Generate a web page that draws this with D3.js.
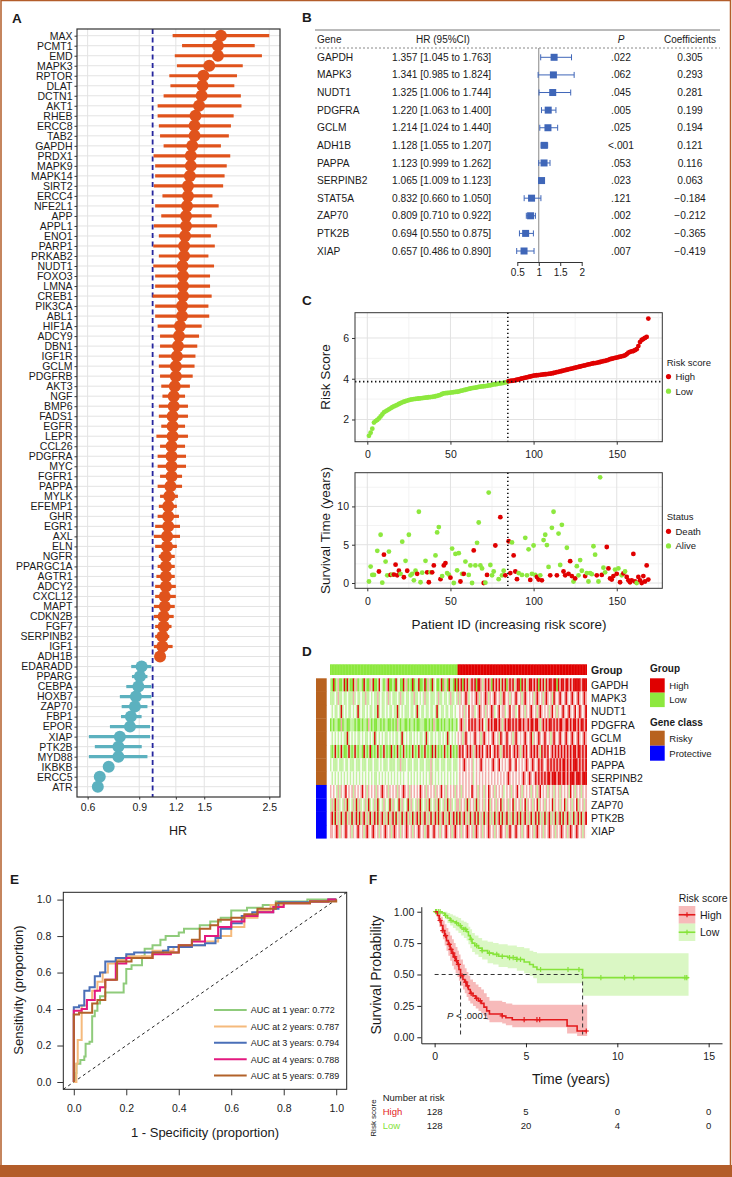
<!DOCTYPE html>
<html>
<head>
<meta charset="utf-8">
<script src="https://cdnjs.cloudflare.com/ajax/libs/d3/7.8.5/d3.min.js"></script>
<style>
  body { margin: 0; background: #fff; }
  svg { display: block; font-family: "Liberation Sans", Arial, Helvetica, sans-serif; }
</style>
</head>
<body>
<div id="fig"></div>
<script>
// ---------------- data ----------------

// A: univariate Cox HRs
const genesA = ['MAX','PCMT1','EMD','MAPK3','RPTOR','DLAT','DCTN1','AKT1','RHEB','ERCC8','TAB2','GAPDH','PRDX1','MAPK9','MAPK14','SIRT2','ERCC4','NFE2L1','APP','APPL1','ENO1','PARP1','PRKAB2','NUDT1','FOXO3','LMNA','CREB1','PIK3CA','ABL1','HIF1A','ADCY9','DBN1','IGF1R','GCLM','PDGFRB','AKT3','NGF','BMP6','FADS1','EGFR','LEPR','CCL26','PDGFRA','MYC','FGFR1','PAPPA','MYLK','EFEMP1','GHR','EGR1','AXL','ELN','NGFR','PPARGC1A','AGTR1','ADCY2','CXCL12','MAPT','CDKN2B','FGF7','SERPINB2','IGF1','ADH1B','EDARADD','PPARG','CEBPA','HOXB7','ZAP70','FBP1','EPOR','XIAP','PTK2B','MYD88','IKBKB','ERCC5','ATR']
const hrA = [1.71,1.67,1.67,1.56,1.49,1.48,1.47,1.44,1.40,1.39,1.39,1.365,1.35,1.35,1.34,1.32,1.32,1.31,1.30,1.30,1.29,1.28,1.28,1.265,1.27,1.27,1.27,1.26,1.26,1.24,1.23,1.22,1.21,1.20,1.20,1.19,1.18,1.18,1.17,1.17,1.17,1.16,1.16,1.16,1.16,1.15,1.14,1.13,1.13,1.13,1.12,1.12,1.11,1.11,1.11,1.11,1.10,1.10,1.09,1.09,1.08,1.08,1.06,0.917,0.905,0.894,0.877,0.87,0.843,0.837,0.773,0.764,0.764,0.708,0.66,0.65]
const loA = [1.17,1.26,1.19,1.21,1.14,1.15,1.09,1.04,1.04,1.05,1.06,1.09,1.007,1.02,1.02,1.01,1.08,1.02,1.07,1.01,1.05,1.005,1.05,1.005,1.02,1.02,1.00,1.02,1.02,1.04,1.06,1.06,1.05,1.05,1.06,1.07,1.08,1.05,1.05,1.07,1.03,1.06,1.04,1.04,1.06,1.04,1.06,1.05,1.04,1.02,1.01,1.02,1.05,1.04,1.03,1.02,1.02,1.01,1.01,1.02,1.02,1.01,1.04,0.845,0.85,0.813,0.773,0.784,0.78,0.715,0.606,0.635,0.606,0.69,0.65,0.64]
const hiA = [2.50,2.23,2.36,2.03,1.94,1.90,2.00,2.01,1.89,1.85,1.82,1.71,1.84,1.79,1.76,1.74,1.60,1.68,1.59,1.66,1.58,1.63,1.55,1.62,1.57,1.57,1.59,1.55,1.56,1.47,1.44,1.42,1.40,1.39,1.37,1.34,1.29,1.32,1.32,1.29,1.32,1.29,1.30,1.30,1.26,1.26,1.22,1.21,1.23,1.24,1.24,1.21,1.19,1.19,1.19,1.20,1.20,1.19,1.18,1.16,1.14,1.17,1.09,0.99,0.96,0.99,0.99,0.96,0.917,0.98,0.98,0.918,0.96,0.73,0.68,0.67]
const ticksA = [0.6, 0.9, 1.2, 1.5, 2.5]

// B: multivariate model
const genesB = ['GAPDH','MAPK3','NUDT1','PDGFRA','GCLM','ADH1B','PAPPA','SERPINB2','STAT5A','ZAP70','PTK2B','XIAP']
const hrB = [1.357,1.341,1.325,1.220,1.214,1.128,1.123,1.065,0.832,0.809,0.694,0.657]
const loB = [1.045,0.985,1.006,1.063,1.024,1.055,0.999,1.009,0.660,0.710,0.550,0.486]
const hiB = [1.763,1.824,1.744,1.400,1.440,1.207,1.262,1.123,1.050,0.922,0.875,0.890]
const pB = ['.022','.062','.045','.005','.025','<.001','.053','.023','.121','.002','.002','.007']
const coefB = ['0.305','0.293','0.281','0.199','0.194','0.121','0.116','0.063','\u22120.184','\u22120.212','\u22120.365','\u22120.419']
const ticksB = [0.5, 1, 1.5, 2]

// C: risk score per patient (sorted), cutoff
const riskScore = [
  1.20,1.35,1.55,1.85,1.92,1.98,2.05,2.15,2.25,2.35,
  2.40,2.45,2.50,2.55,2.60,2.64,2.68,2.72,2.76,2.80,
  2.84,2.87,2.90,2.93,2.95,2.97,2.99,3.00,3.01,3.02,
  3.03,3.04,3.05,3.06,3.07,3.08,3.09,3.10,3.11,3.12,
  3.14,3.16,3.18,3.21,3.25,3.28,3.29,3.30,3.31,3.32,
  3.33,3.34,3.35,3.36,3.37,3.40,3.42,3.44,3.46,3.48,
  3.50,3.52,3.54,3.55,3.56,3.58,3.60,3.61,3.62,3.63,
  3.64,3.65,3.67,3.68,3.70,3.72,3.73,3.74,3.76,3.77,
  3.78,3.80,3.82,3.84,3.88,3.89,3.90,3.91,3.93,3.95,
  3.97,3.99,4.01,4.03,4.05,4.07,4.09,4.11,4.13,4.15,
  4.16,4.17,4.18,4.19,4.20,4.21,4.22,4.23,4.24,4.25,
  4.26,4.28,4.30,4.32,4.34,4.36,4.38,4.40,4.42,4.44,
  4.46,4.48,4.50,4.52,4.54,4.56,4.58,4.60,4.62,4.64,
  4.66,4.68,4.70,4.72,4.74,4.76,4.77,4.78,4.80,4.82,
  4.84,4.86,4.88,4.90,4.93,4.96,4.98,5.00,5.02,5.04,
  5.06,5.08,5.10,5.12,5.15,5.20,5.28,5.32,5.34,5.36,
  5.40,5.45,5.60,5.80,5.90,5.95,6.00,6.05,6.95]
const nLow = 84
const riskCut = 3.86
const survIdx = [1,2,3,4,6,7,8,9,10,11,12,13,14,15,16,17,18,19,20,21,22,23,24,25,26,27,28,29,30,31,32,33,35,36,37,38,39,40,41,42,43,44,45,46,47,48,49,50,51,52,53,54,55,56,57,58,59,61,62,63,64,65,66,67,68,69,70,71,72,73,74,75,76,77,79,80,81,82,83,85,86,87,88,89,90,91,93,95,96,97,98,99,100,101,102,103,104,105,106,107,108,109,110,111,112,114,115,116,117,118,119,120,121,122,123,124,125,126,127,128,129,131,132,133,134,135,136,137,138,139,140,141,142,143,144,145,146,147,148,149,150,151,152,153,154,155,156,157,158,159,160,161,162,163,164,165,166,167,168,169]
const survTime = [0.2,2.15,1.05,1.05,4.2,1.5,6.3,0.05,3.7,2.8,1.0,4.1,1.05,1.1,1.1,2.4,1.0,1.6,1.2,5.4,0.75,2.9,1.6,6.3,1.0,1.2,0.35,1.6,1.2,9.3,0.1,1.35,2.9,1.4,0.1,1.4,1.4,2.3,3.6,6.6,7.3,0.5,0.9,2.3,2.6,1.3,1.1,0.7,4.5,0.0,3.8,1.65,3.9,0.2,1.2,1.2,2.8,1.05,2.3,0.0,4.25,2.3,5.25,7.9,2.3,1.9,0.0,0.05,1.05,11.8,2.35,1.0,1.5,4.9,0.5,8.6,1.0,1.6,1.0,5.45,1.3,5.3,3.6,1.5,0.5,1.3,1.05,5.9,1.0,4.4,0.4,1.2,4.9,1.05,0.8,0.45,1.0,0.35,5.6,6.3,4.95,2.1,1.0,7.2,9.3,1.0,6.45,2.35,7.6,1.5,1.0,4.6,1.2,2.85,0.9,0.2,0.6,2.2,1.0,3.0,1.6,0.9,1.3,0.2,1.3,1.15,4.8,3.7,1.0,0.2,13.8,1.05,2.0,1.4,4.7,1.9,0.6,0.45,0.9,1.75,1.2,1.9,0.1,1.0,1.25,1.5,0.8,0.35,0.1,0.35,3.8,0.2,0.0,0.8,0.35,0.0,0.9,0.2,2.3,0.45]
const survDead = [0,0,0,0,0,1,0,0,1,0,0,0,1,0,1,1,1,1,0,0,1,0,1,0,0,0,0,0,1,0,0,0,0,1,1,0,1,1,0,0,0,1,0,1,1,0,0,1,0,0,0,0,0,1,0,1,0,0,0,0,1,0,0,0,0,0,1,0,1,0,0,0,0,1,0,1,0,0,1,1,1,0,1,1,1,0,0,0,0,0,1,0,0,0,1,1,0,1,0,0,0,0,1,0,0,1,0,0,0,1,1,0,1,1,1,0,1,0,0,0,0,1,0,0,0,0,0,0,1,0,0,1,0,0,1,1,1,1,1,0,1,0,1,0,1,0,1,1,1,1,1,1,0,1,1,1,1,1,1,1]

// D: expression heatmap (0 = strong green, 2 = white, 4 = strong red), low group then high group
const genesD = ['GAPDH','MAPK3','NUDT1','PDGFRA','GCLM','ADH1B','PAPPA','SERPINB2','STAT5A','ZAP70','PTK2B','XIAP']
const classD = ['Risky','Risky','Risky','Risky','Risky','Risky','Risky','Risky','Protective','Protective','Protective','Protective']
const exprD = [
  '1040130014 0410041301 1041003140 0142101340 0104120041 3010401140 0140310412 0014031041 1040' + '4340434134 3404431343 4304343414 3403434134 4043413443 4340434143 4434404344 3443434444 43444',
  '1112131121 1211131211 2113112121 1312112131 2111213112 1121131121 2131121112 1311211213 1121' + '3132343123 2343132343 1323432313 4323132343 2313432323 1343231343 2314323432 3432343234 32343',
  '2121121412 1211212141 2112121121 1412112121 1211412121 1121121412 1121121121 4121121121 1212' + '2323132423 3123432313 2343123423 3123423312 4323132343 2313432323 1342313234 3234323423 43234',
  '0101100301 1001110100 1011031010 0110101100 1010310110 0101101001 1100101031 0010101101 0110' + '2343132434 3433434213 4343443431 3434434343 4434334344 3443134343 4434343443 3443434434 34434',
  '2121212121 1412121211 2121121214 1212121121 2121121412 1211212121 1214121121 2112121412 1212' + '3231343232 3432313432 3234323143 2343231343 2323432341 3234323432 3134323432 3432343234 32343',
  '1014101410 0141014101 1041014010 1410141010 4101410141 0101410141 0141010414 1010141014 1010' + '3434234343 1343434234 3423434313 4343423434 3134342343 4343143434 2343434343 4343434434 43434',
  '1211121112 1121112111 2111211121 1121211121 1112113111 2111211121 1121113121 1121112111 2111' + '2323432323 1232343232 3234323423 2323432342 3232343234 3234343234 3434343434 4343434443 43434',
  '2121212121 2121212121 2121212121 1212121212 1212121212 2121212121 2121213121 2121212121 2121' + '2323232323 1232323232 3232323232 3234323232 3234323432 3434343434 4344434434 4343444344 43444',
  '3232131323 4232313232 3423132323 1323432313 2323132343 2313232324 3231323231 3234231323 2313' + '2313232324 3231323132 4323132323 1232313234 2313232313 2313423231 3231323132 3231423132 31323',
  '1314131213 1412131413 1213141213 1412131214 1312141312 1413121314 1213141213 1412131413 1213' + '3132314132 3141323132 4132313241 3231324132 3132413231 3241323132 3241323132 4132313241 32313',
  '3414131413 4131413414 1341314134 1413413141 3414131413 4131413414 1341314134 1413413141 3414' + '1413413141 3414131413 4131413414 1341314134 1413413141 3414131413 4131413414 1341314134 14134',
  '3323431323 4323132343 2313432343 2313234323 1343231323 4323132343 2313432343 2313234323 1343' + '2313234323 1343231323 4323132343 2313432343 2313234323 1343231323 4323132343 2313432343 23132'
]

// E: time-dependent ROC curves [1 - specificity, sensitivity]
const rocLabels = ['AUC at 1 year: 0.772','AUC at 2 years: 0.787','AUC at 3 years: 0.794','AUC at 4 years: 0.788','AUC at 5 years: 0.789']
const rocColors = ['#8fcb7b','#f5ba7c','#4a6fb8','#e3197f','#b2622a']
const roc1 = [[0,0],[0.005,0.05],[0.01,0.1],[0.025,0.12],[0.04,0.14],[0.045,0.21],[0.06,0.22],[0.07,0.36],[0.08,0.39],[0.09,0.43],[0.1,0.47],[0.12,0.49],[0.19,0.54],[0.2,0.62],[0.22,0.64],[0.26,0.69],[0.27,0.73],[0.3,0.75],[0.33,0.78],[0.35,0.80],[0.4,0.82],[0.42,0.84],[0.46,0.84],[0.48,0.86],[0.52,0.88],[0.56,0.90],[0.6,0.94],[0.66,0.955],[0.72,0.97],[0.77,0.99],[0.89,1.0],[1,1]]
const roc2 = [[0,0],[0.01,0.1],[0.015,0.23],[0.025,0.23],[0.03,0.42],[0.05,0.45],[0.07,0.5],[0.09,0.55],[0.11,0.6],[0.13,0.65],[0.16,0.67],[0.2,0.69],[0.3,0.72],[0.38,0.74],[0.45,0.75],[0.5,0.77],[0.55,0.8],[0.6,0.85],[0.65,0.9],[0.7,0.94],[0.75,0.97],[0.8,0.98],[0.9,0.99],[0.97,1.0],[1,1]]
const roc3 = [[0,0],[0,0.41],[0.02,0.42],[0.04,0.5],[0.06,0.52],[0.08,0.58],[0.1,0.6],[0.12,0.66],[0.16,0.68],[0.2,0.70],[0.23,0.71],[0.34,0.72],[0.36,0.74],[0.45,0.75],[0.5,0.76],[0.54,0.79],[0.56,0.84],[0.6,0.87],[0.64,0.91],[0.68,0.93],[0.76,0.95],[0.78,0.985],[0.9,0.99],[0.97,1.0],[1,1]]
const roc4 = [[0,0],[0,0.39],[0.03,0.40],[0.05,0.45],[0.08,0.50],[0.1,0.52],[0.12,0.56],[0.16,0.65],[0.2,0.68],[0.3,0.70],[0.37,0.71],[0.4,0.75],[0.45,0.77],[0.5,0.80],[0.55,0.85],[0.6,0.88],[0.65,0.91],[0.7,0.93],[0.76,0.96],[0.8,0.98],[0.9,0.99],[0.97,1.0],[1,1]]
const roc5 = [[0,0],[0,0.37],[0.02,0.38],[0.05,0.38],[0.07,0.43],[0.09,0.45],[0.12,0.50],[0.12,0.56],[0.165,0.66],[0.22,0.68],[0.3,0.71],[0.4,0.75],[0.45,0.78],[0.48,0.84],[0.52,0.86],[0.55,0.89],[0.6,0.90],[0.65,0.92],[0.7,0.95],[0.77,0.98],[0.9,0.99],[1,1]]
const rocCurves = [roc1, roc2, roc3, roc4, roc5]
const ticksE = [0, 0.2, 0.4, 0.6, 0.8, 1.0]

// F: Kaplan-Meier (step points), CIs, censor times, risk table
const kmHighT  = [0,0.15,0.25,0.35,0.45,0.55,0.65,0.75,0.85,0.95,1.05,1.15,1.25,1.33,1.42,1.55,1.65,1.75,1.85,1.95,2.1,2.25,2.4,2.55,2.7,2.85,3.0,3.7,3.9,4.25,7.25,7.8,8.35]
const kmHighS  = [1,0.97,0.93,0.89,0.85,0.81,0.77,0.74,0.70,0.67,0.64,0.61,0.58,0.54,0.49,0.46,0.44,0.41,0.38,0.35,0.33,0.31,0.29,0.27,0.24,0.21,0.185,0.17,0.155,0.14,0.09,0.05,0.05]
const kmHighU  = [1,1,0.99,0.96,0.93,0.90,0.87,0.84,0.81,0.78,0.75,0.72,0.69,0.66,0.62,0.58,0.55,0.52,0.49,0.46,0.44,0.42,0.40,0.38,0.35,0.32,0.29,0.28,0.27,0.26,0.26,0.26,0.26]
const kmHighL  = [1,0.94,0.88,0.83,0.78,0.73,0.69,0.65,0.61,0.57,0.54,0.51,0.48,0.45,0.41,0.38,0.35,0.32,0.29,0.27,0.25,0.23,0.21,0.19,0.17,0.14,0.12,0.11,0.095,0.08,0.03,0.01,0.01]
const kmLowT   = [0,0.4,0.55,0.7,0.85,1.0,1.15,1.3,1.45,1.6,1.75,1.85,1.95,2.05,2.2,2.4,2.6,2.9,3.2,3.5,4.0,4.5,4.9,5.2,5.4,5.6,8.1,13.9]
const kmLowS   = [1,0.99,0.97,0.95,0.93,0.92,0.91,0.89,0.87,0.86,0.84,0.81,0.78,0.75,0.73,0.71,0.69,0.67,0.66,0.645,0.635,0.62,0.60,0.58,0.56,0.54,0.475,0.475]
const kmLowU   = [1,1,1,0.99,0.98,0.97,0.96,0.95,0.93,0.92,0.91,0.88,0.86,0.83,0.81,0.79,0.77,0.76,0.75,0.74,0.73,0.72,0.71,0.69,0.68,0.67,0.67,0.67]
const kmLowL   = [1,0.97,0.94,0.91,0.89,0.87,0.85,0.83,0.81,0.79,0.77,0.74,0.71,0.68,0.66,0.64,0.62,0.59,0.58,0.56,0.55,0.53,0.51,0.49,0.47,0.43,0.33,0.33]
const censorHigh = [0.3,0.45,0.6,0.8,0.9,1.0,1.1,1.2,1.3,1.5,1.7,1.8,2.0,2.3,2.5,3.7,4.9,5.6,5.75,8.3]
const censorLow  = [0.05,0.1,0.2,0.3,0.6,0.9,1.2,1.4,1.6,1.7,2.0,2.3,2.6,3.0,3.4,3.7,4.1,4.3,4.5,4.7,5.8,7.3,7.9,9.1,10.4,10.9,13.7,13.8]
const medHigh = 1.42, medLow = 8.1
const riskTimes = [0, 5, 10, 15]
const riskHigh = [128, 5, 0, 0]
const riskLow = [128, 20, 4, 0]

// ---------------- drawing ----------------
const FONT = '"Liberation Sans", Arial, Helvetica, sans-serif'
const ink = '#1a1a1a'
const orange = '#e0531c', teal = '#5cb1bf'
const red = '#e00000', green = '#8de83e'
const frameCol = '#b35d2a'

const svg = d3.select('#fig').append('svg')
  .attr('width', 732).attr('height', 1177)

const styleAxis = (g, size) => {
  g.select('.domain').remove()
  g.selectAll('text').attr('font-size', size).attr('font-family', FONT).attr('fill', ink)
  g.selectAll('line').attr('stroke', '#333')
}
const label = (x, y, s, size, opts = {}) => svg.append('text')
  .attr('x', x).attr('y', y).text(s)
  .attr('font-size', size).attr('fill', opts.fill || ink)
  .attr('font-weight', opts.bold ? 'bold' : null)
  .attr('text-anchor', opts.anchor || 'start')
  .attr('font-style', opts.italic ? 'italic' : null)

// frame
svg.append('rect').attr('x', 1).attr('y', 0.5).attr('width', 729.5).attr('height', 1170)
   .attr('fill', 'none').attr('stroke', frameCol).attr('stroke-width', 1.5)
svg.append('rect').attr('x', 0).attr('y', 1165).attr('width', 732).attr('height', 12).attr('fill', frameCol)

// panel letters
label(12, 22.5, 'A', 13.5, { bold: true })
label(302, 22, 'B', 13.5, { bold: true })
label(302, 305, 'C', 13.5, { bold: true })
label(302, 656, 'D', 13.5, { bold: true })
label(10, 884, 'E', 13.5, { bold: true })
label(369, 884, 'F', 13.5, { bold: true })

// ===== A =====
const gA = svg.append('g')
const ax = d3.scaleLog().domain([0.552, 2.72]).range([77, 280])
const ay = d3.scalePoint().domain(genesA).range([35.7, 786.7])

gA.selectAll('line.vg').data(ticksA).join('line').attr('class', 'vg')
  .attr('x1', d => ax(d)).attr('x2', d => ax(d)).attr('y1', 29).attr('y2', 797)
  .attr('stroke', '#e3e3e3')
gA.selectAll('line.hg').data(genesA).join('line').attr('class', 'hg')
  .attr('x1', 77).attr('x2', 280).attr('y1', d => ay(d)).attr('y2', d => ay(d))
  .attr('stroke', '#e3e3e3')
gA.append('line').attr('x1', ax(1)).attr('x2', ax(1)).attr('y1', 29).attr('y2', 797)
  .attr('stroke', '#26269e').attr('stroke-width', 1.8).attr('stroke-dasharray', '5,3.5')

gA.selectAll('line.ci').data(genesA).join('line').attr('class', 'ci')
  .attr('x1', (d, i) => ax(loA[i])).attr('x2', (d, i) => ax(hiA[i]))
  .attr('y1', d => ay(d)).attr('y2', d => ay(d))
  .attr('stroke', (d, i) => hrA[i] < 1 ? teal : orange).attr('stroke-width', 3.2)
gA.selectAll('circle').data(genesA).join('circle')
  .attr('cx', (d, i) => ax(hrA[i])).attr('cy', d => ay(d)).attr('r', 6)
  .attr('fill', (d, i) => hrA[i] < 1 ? teal : orange)
gA.append('rect').attr('x', 77).attr('y', 29).attr('width', 203).attr('height', 768)
  .attr('fill', 'none').attr('stroke', '#333').attr('stroke-width', 1.2)

gA.append('g').attr('transform', 'translate(77,0)')
  .call(d3.axisLeft(ay).tickSize(2.5).tickPadding(2))
  .call(g => styleAxis(g, 10.5))
gA.append('g').attr('transform', 'translate(0,797)')
  .call(d3.axisBottom(ax).tickValues(ticksA).tickFormat(d3.format('.1f')).tickSize(2.5).tickPadding(4))
  .call(g => styleAxis(g, 10.5))
label(178, 835, 'HR', 12.5, { anchor: 'middle' })

// ===== B =====
const gB = svg.append('g')
const by = d3.scalePoint().domain(genesB).range([57.3, 251])
const bx = d3.scaleLinear().domain([0.5, 2]).range([517.3, 581.7])
const blue = '#3f66b8'

gB.append('line').attr('x1', 315).attr('x2', 720).attr('y1', 30).attr('y2', 30).attr('stroke', '#777')
gB.append('line').attr('x1', 315).attr('x2', 720).attr('y1', 48).attr('y2', 48)
  .attr('stroke', '#888').attr('stroke-dasharray', '2,2')
label(317, 43, 'Gene', 10)
label(443, 43, 'HR (95%CI)', 10, { anchor: 'middle' })
label(621, 43, 'P', 10, { anchor: 'middle', italic: true })
label(690, 43, 'Coefficients', 10, { anchor: 'middle' })

gB.append('line').attr('x1', bx(1)).attr('x2', bx(1)).attr('y1', 48).attr('y2', 262).attr('stroke', '#888')
const rowsB = gB.selectAll('g.row').data(genesB).join('g').attr('class', 'row')
  .attr('transform', d => `translate(0,${by(d)})`)
rowsB.append('text').attr('x', 317).attr('dy', '0.35em').text(d => d)
rowsB.append('text').attr('x', 392).attr('dy', '0.35em')
  .text((d, i) => `${hrB[i].toFixed(3)} [${loB[i].toFixed(3)} to ${hiB[i].toFixed(3)}]`)
rowsB.append('text').attr('x', 621).attr('dy', '0.35em').attr('text-anchor', 'middle').text((d, i) => pB[i])
rowsB.append('text').attr('x', 690).attr('dy', '0.35em').attr('text-anchor', 'middle').text((d, i) => coefB[i])
rowsB.selectAll('text').attr('font-size', 10.2).attr('fill', ink)
rowsB.append('line').attr('x1', (d, i) => bx(loB[i])).attr('x2', (d, i) => bx(hiB[i]))
  .attr('stroke', blue)
rowsB.append('line').attr('x1', (d, i) => bx(loB[i])).attr('x2', (d, i) => bx(loB[i]))
  .attr('y1', -3).attr('y2', 3).attr('stroke', blue)
rowsB.append('line').attr('x1', (d, i) => bx(hiB[i])).attr('x2', (d, i) => bx(hiB[i]))
  .attr('y1', -3).attr('y2', 3).attr('stroke', blue)
rowsB.append('rect').attr('x', (d, i) => bx(hrB[i]) - 3.5).attr('y', -3.5)
  .attr('width', 7).attr('height', 7).attr('fill', blue)
gB.append('g').attr('transform', 'translate(0,262)')
  .call(d3.axisBottom(bx).tickValues(ticksB).tickFormat(d3.format('~g')).tickSize(4).tickSizeOuter(0))
  .call(g => {
    g.selectAll('text').attr('font-size', 10).attr('fill', ink)
    g.select('.domain').attr('stroke', '#333')
    g.selectAll('line').attr('stroke', '#333')
  })

// ===== C =====
const gC = svg.append('g')
const n = riskScore.length
const cx = d3.scaleLinear().domain([1 - 0.05 * (n - 1), n + 0.05 * (n - 1)]).range([355, 662.3])
const cy1 = d3.scaleLinear().domain([0.91, 7.24]).range([441.7, 312.7])
const cy2 = d3.scaleLinear().domain([-0.69, 14.4]).range([588.3, 472.7])
const xMajC = [0, 50, 100, 150], xMinC = [25, 75, 125, 175]

const gridC = (yScale, yMaj, yMin, top, bottom) => {
  const g = gC.append('g')
  g.selectAll('line.mx').data(xMinC).join('line').attr('class', 'mx')
    .attr('x1', d => cx(d)).attr('x2', d => cx(d)).attr('y1', top).attr('y2', bottom).attr('stroke', '#f3f3f3')
  g.selectAll('line.my').data(yMin).join('line').attr('class', 'my')
    .attr('y1', d => yScale(d)).attr('y2', d => yScale(d)).attr('x1', 355).attr('x2', 662.3).attr('stroke', '#f3f3f3')
  g.selectAll('line.Mx').data(xMajC).join('line').attr('class', 'Mx')
    .attr('x1', d => cx(d)).attr('x2', d => cx(d)).attr('y1', top).attr('y2', bottom).attr('stroke', '#e2e2e2')
  g.selectAll('line.My').data(yMaj).join('line').attr('class', 'My')
    .attr('y1', d => yScale(d)).attr('y2', d => yScale(d)).attr('x1', 355).attr('x2', 662.3).attr('stroke', '#e2e2e2')
}
gridC(cy1, [2, 4, 6], [1, 3, 5, 7], 312.7, 441.7)
gridC(cy2, [0, 5, 10], [2.5, 7.5, 12.5], 472.7, 588.3)

// risk score points
gC.selectAll('circle.rs').data(riskScore).join('circle').attr('class', 'rs')
  .attr('cx', (d, i) => cx(i + 1)).attr('cy', d => cy1(d)).attr('r', 2.4)
  .attr('fill', (d, i) => i < nLow ? green : red)
// survival points
gC.selectAll('circle.st').data(survTime).join('circle').attr('class', 'st')
  .attr('cx', (d, i) => cx(survIdx[i])).attr('cy', d => cy2(d)).attr('r', 2.4)
  .attr('fill', (d, i) => survDead[i] ? red : green)

// dotted cut lines
const dot = g => g.attr('stroke', '#111').attr('stroke-width', 1.6).attr('stroke-dasharray', '1.4,2.6')
gC.append('line').attr('x1', 355).attr('x2', 662.3).attr('y1', cy1(riskCut)).attr('y2', cy1(riskCut)).call(dot)
gC.append('line').attr('x1', cx(nLow + 0.5)).attr('x2', cx(nLow + 0.5)).attr('y1', 312.7).attr('y2', 441.7).call(dot)
gC.append('line').attr('x1', cx(nLow + 0.5)).attr('x2', cx(nLow + 0.5)).attr('y1', 472.7).attr('y2', 588.3).call(dot)

gC.append('rect').attr('x', 355).attr('y', 312.7).attr('width', 307.3).attr('height', 129)
  .attr('fill', 'none').attr('stroke', '#333')
gC.append('rect').attr('x', 355).attr('y', 472.7).attr('width', 307.3).attr('height', 115.6)
  .attr('fill', 'none').attr('stroke', '#333')

gC.append('g').attr('transform', 'translate(355,0)')
  .call(d3.axisLeft(cy1).tickValues([2, 4, 6]).tickFormat(d3.format('d')).tickSize(3).tickPadding(3)).call(g => styleAxis(g, 10.5))
gC.append('g').attr('transform', 'translate(0,441.7)')
  .call(d3.axisBottom(cx).tickValues(xMajC).tickSize(3).tickPadding(6)).call(g => styleAxis(g, 10.5))
gC.append('g').attr('transform', 'translate(355,0)')
  .call(d3.axisLeft(cy2).tickValues([0, 5, 10]).tickFormat(d3.format('d')).tickSize(3).tickPadding(3)).call(g => styleAxis(g, 10.5))
gC.append('g').attr('transform', 'translate(0,588.3)')
  .call(d3.axisBottom(cx).tickValues(xMajC).tickSize(3).tickPadding(6)).call(g => styleAxis(g, 10.5))

svg.append('text').attr('transform', 'translate(330,377) rotate(-90)').attr('text-anchor', 'middle')
  .attr('font-size', 13.5).attr('fill', ink).text('Risk Score')
svg.append('text').attr('transform', 'translate(330,530.5) rotate(-90)').attr('text-anchor', 'middle')
  .attr('font-size', 13.5).attr('fill', ink).text('Survival Time (years)')
label(509, 629, 'Patient ID (increasing risk score)', 13.5, { anchor: 'middle' })

const legendC = (y0, title, items) => {
  label(666.7, y0 + 3.5, title, 9.5)
  items.forEach((it, i) => {
    svg.append('circle').attr('cx', 668.5).attr('cy', y0 + 14.6 * (i + 1)).attr('r', 2.6).attr('fill', it[1])
    label(675.5, y0 + 14.6 * (i + 1) + 3.5, it[0], 9.5)
  })
}
legendC(362, 'Risk score', [['High', red], ['Low', green]])
legendC(516.7, 'Status', [['Death', red], ['Alive', green]])

// ===== D =====
const gD = svg.append('g')
const hx = d3.scaleBand().domain(d3.range(n)).range([330, 586.7])
const hy = d3.scaleBand().domain(genesD).range([678.3, 838.3])
const heatCol = d3.scaleLinear().domain([0, 1, 2, 3, 4])
  .range(['#86e63c', '#c4f2a2', '#fbfbf6', '#f3adad', '#de0c0c'])
const classCol = { Risky: '#b8621f', Protective: '#0000ff' }

genesD.forEach((gene, r) => {
  const vals = exprD[r].replace(/ /g, '').split('').map(Number)
  gD.selectAll(`rect.h${r}`).data(vals).join('rect').attr('class', `h${r}`)
    .attr('x', (d, i) => hx(i)).attr('y', hy(gene))
    .attr('width', hx.bandwidth() + 0.3).attr('height', hy.bandwidth())
    .attr('fill', d => heatCol(d))
})
gD.selectAll('rect.grp').data(d3.range(n)).join('rect').attr('class', 'grp')
  .attr('x', d => hx(d)).attr('y', 664.3).attr('width', hx.bandwidth() + 0.3).attr('height', 10.7)
  .attr('fill', d => d < nLow ? green : red)
gD.selectAll('rect.cls').data(genesD).join('rect').attr('class', 'cls')
  .attr('x', 316).attr('y', d => hy(d)).attr('width', 10.7).attr('height', hy.bandwidth() + 0.3)
  .attr('fill', (d, i) => classCol[classD[i]])
gD.selectAll('text.gn').data(genesD).join('text').attr('class', 'gn')
  .attr('x', 591).attr('y', d => hy(d) + hy.bandwidth() / 2).attr('dy', '0.35em')
  .attr('font-size', 10.5).attr('fill', ink).text(d => d)
label(591, 673.5, 'Group', 10.5, { bold: true })

label(650, 672, 'Group', 10, { bold: true })
;[['High', red], ['Low', green]].forEach((it, i) => {
  svg.append('rect').attr('x', 650).attr('y', 678.3 + i * 14.4).attr('width', 14.7).attr('height', 14.4).attr('fill', it[1])
  label(669.3, 678.3 + i * 14.4 + 10.5, it[0], 9.5)
})
label(650, 725.5, 'Gene class', 10, { bold: true })
;[['Risky', classCol.Risky], ['Protective', classCol.Protective]].forEach((it, i) => {
  svg.append('rect').attr('x', 650).attr('y', 730.7 + i * 15).attr('width', 14.7).attr('height', 15).attr('fill', it[1])
  label(669.3, 730.7 + i * 15 + 11, it[0], 9.5)
})

// ===== E =====
const gE = svg.append('g')
const ex = d3.scaleLinear().domain([-0.04, 1.04]).range([63.3, 346.7])
const ey = d3.scaleLinear().domain([-0.04, 1.04]).range([1089.3, 892.3])
gE.append('line').attr('x1', ex(-0.04)).attr('y1', ey(-0.04)).attr('x2', ex(1.04)).attr('y2', ey(1.04))
  .attr('stroke', '#222').attr('stroke-dasharray', '3,3')
const rocLine = d3.line().x(d => ex(d[0])).y(d => ey(d[1])).curve(d3.curveStepAfter)
rocCurves.forEach((c, i) => {
  gE.append('path').attr('d', rocLine(c)).attr('fill', 'none')
    .attr('stroke', rocColors[i]).attr('stroke-width', 2)
})
gE.append('rect').attr('x', 63.3).attr('y', 892.3).attr('width', 283.4).attr('height', 197)
  .attr('fill', 'none').attr('stroke', '#222')
gE.append('g').attr('transform', 'translate(0,1089.3)')
  .call(d3.axisBottom(ex).tickValues(ticksE).tickFormat(d3.format('.1f')).tickSize(6).tickPadding(9))
  .call(g => styleAxis(g, 10.5))
gE.append('g').attr('transform', 'translate(63.3,0)')
  .call(d3.axisLeft(ey).tickValues(ticksE).tickFormat(d3.format('.1f')).tickSize(6).tickPadding(6))
  .call(g => styleAxis(g, 10.5))
svg.append('text').attr('transform', 'translate(23,990) rotate(-90)').attr('text-anchor', 'middle')
  .attr('font-size', 13).attr('fill', ink).text('Sensitivity (proportion)')
label(205, 1137, '1 - Specificity (proportion)', 13, { anchor: 'middle' })
rocLabels.forEach((s, i) => {
  const y = 1010 + i * 16.4
  gE.append('line').attr('x1', 214).attr('x2', 246.7).attr('y1', y).attr('y2', y)
    .attr('stroke', rocColors[i]).attr('stroke-width', 2)
  label(250.7, y + 3.3, s, 9)
})

// ===== F =====
const gF = svg.append('g')
const fx = d3.scaleLinear().domain([-0.73, 15.73]).range([421.3, 722])
const fy = d3.scaleLinear().domain([-0.048, 1.04]).range([1043.3, 906.7])
const kmRed = '#e31a1c', kmGreen = '#86e33a'
const band = d3.area().curve(d3.curveStepAfter).x(d => fx(d[0])).y0(d => fy(d[1])).y1(d => fy(d[2]))
const step = d3.line().curve(d3.curveStepAfter).x(d => fx(d[0])).y(d => fy(d[1]))
const survAt = (T, S, t) => S[Math.max(0, d3.bisectRight(T, t) - 1)]

const kmGroups = [
  { T: kmLowT, S: kmLowS, U: kmLowU, L: kmLowL, cens: censorLow, col: kmGreen },
  { T: kmHighT, S: kmHighS, U: kmHighU, L: kmHighL, cens: censorHigh, col: kmRed }
]
kmGroups.forEach(k => {
  gF.append('path').attr('d', band(k.T.map((t, i) => [t, k.L[i], k.U[i]])))
    .attr('fill', k.col).attr('fill-opacity', 0.3)
})
const dash = g => g.attr('stroke', '#333').attr('stroke-width', 1).attr('stroke-dasharray', '4,3')
gF.append('line').attr('x1', fx(0)).attr('x2', fx(medLow)).attr('y1', fy(0.5)).attr('y2', fy(0.5)).call(dash)
gF.append('line').attr('x1', fx(medHigh)).attr('x2', fx(medHigh)).attr('y1', fy(0.5)).attr('y2', fy(0)).call(dash)
gF.append('line').attr('x1', fx(medLow)).attr('x2', fx(medLow)).attr('y1', fy(0.5)).attr('y2', fy(0)).call(dash)
kmGroups.forEach(k => {
  gF.append('path').attr('d', step(k.T.map((t, i) => [t, k.S[i]])))
    .attr('fill', 'none').attr('stroke', k.col).attr('stroke-width', 1.6)
  gF.selectAll(null).data(k.cens).join('path')
    .attr('transform', t => `translate(${fx(t)},${fy(survAt(k.T, k.S, t))})`)
    .attr('d', 'M-2.6,0H2.6M0,-2.6V2.6').attr('stroke', k.col).attr('stroke-width', 1.2)
})
const pText = svg.append('text').attr('x', 447).attr('y', 1018.5).attr('font-size', 9.5).attr('fill', ink)
pText.append('tspan').attr('font-style', 'italic').text('P')
pText.append('tspan').text(' < .0001')

gF.append('g').attr('transform', 'translate(421.3,0)')
  .call(d3.axisLeft(fy).tickValues([0, 0.25, 0.5, 0.75, 1]).tickFormat(d3.format('.2f')).tickSize(4).tickSizeOuter(0).tickPadding(3))
  .call(g => {
    g.selectAll('text').attr('font-size', 10.5).attr('fill', ink)
    g.selectAll('line').attr('stroke', '#222')
    g.select('.domain').attr('stroke', '#222')
  })
gF.append('g').attr('transform', 'translate(0,1043.3)')
  .call(d3.axisBottom(fx).tickValues(riskTimes).tickSize(4).tickSizeOuter(0).tickPadding(5))
  .call(g => {
    g.selectAll('text').attr('font-size', 10.5).attr('fill', ink)
    g.selectAll('line').attr('stroke', '#222')
    g.select('.domain').attr('stroke', '#222')
  })
svg.append('text').attr('transform', 'translate(381,975) rotate(-90)').attr('text-anchor', 'middle')
  .attr('font-size', 14).attr('fill', ink).text('Survival Probability')
label(571, 1084, 'Time (years)', 14, { anchor: 'middle' })

// F legend
label(678.7, 901.5, 'Risk score', 10.5)
;[['High', kmRed], ['Low', kmGreen]].forEach((it, i) => {
  const y0 = 906 + i * 17.5
  svg.append('rect').attr('x', 678.7).attr('y', y0).attr('width', 16.6).attr('height', 17.5)
    .attr('fill', it[1]).attr('fill-opacity', 0.3)
  svg.append('line').attr('x1', 678.7).attr('x2', 695.3).attr('y1', y0 + 8.75).attr('y2', y0 + 8.75)
    .attr('stroke', it[1]).attr('stroke-width', 1.6)
  svg.append('path').attr('transform', `translate(687,${y0 + 8.75})`).attr('d', 'M-2.6,0H2.6M0,-2.6V2.6')
    .attr('stroke', it[1]).attr('stroke-width', 1.2)
  label(700, y0 + 12.5, it[0], 10.5)
})

// F risk table
label(382.7, 1101, 'Number at risk', 9.5)
label(382.7, 1115, 'High', 9.5, { fill: kmRed })
label(382.7, 1129, 'Low', 9.5, { fill: kmGreen })
riskTimes.forEach((t, i) => {
  label(fx(t), 1115, riskHigh[i], 9.5, { anchor: 'middle' })
  label(fx(t), 1129, riskLow[i], 9.5, { anchor: 'middle' })
})
svg.append('text').attr('transform', 'translate(375.5,1118) rotate(-90)').attr('text-anchor', 'middle')
  .attr('font-size', 8).attr('fill', ink).text('Risk score')
</script>
</body>
</html>
